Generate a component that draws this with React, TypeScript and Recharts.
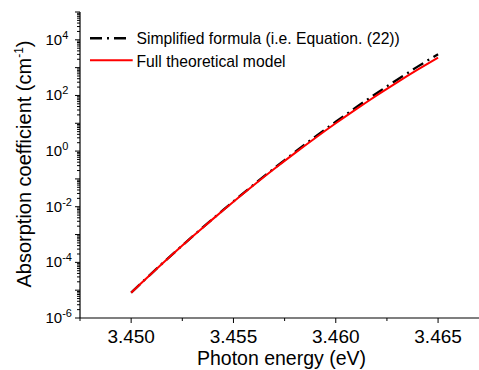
import React from 'react';
import { LineChart, Line, XAxis, YAxis, Label } from 'recharts';

const energies = [
  3.45, 3.4505, 3.451, 3.4515, 3.452, 3.4525, 3.453, 3.4535, 3.454, 3.4545,
  3.455, 3.4555, 3.456, 3.4565, 3.457, 3.4575, 3.458, 3.4585, 3.459, 3.4595,
  3.46, 3.4605, 3.461, 3.4615, 3.462, 3.4625, 3.463, 3.4635, 3.464, 3.4645, 3.465,
];
const fullModel = [
  8.13e-6, 1.81e-5, 3.99e-5, 8.69e-5, 1.88e-4, 4.01e-4, 8.47e-4, 1.77e-3, 3.66e-3, 7.52e-3,
  1.52e-2, 3.05e-2, 6.05e-2, 0.119, 0.231, 0.445, 0.847, 1.59, 2.97, 5.48,
  10.0, 18.1, 32.3, 57.1, 100, 173, 296, 502, 843, 1403, 2307,
];
const simplified = [
  8.22e-6, 1.83e-5, 4.04e-5, 8.81e-5, 1.91e-4, 4.07e-4, 8.61e-4, 1.8e-3, 3.73e-3, 7.67e-3,
  1.56e-2, 3.16e-2, 6.34e-2, 0.125, 0.245, 0.476, 0.918, 1.75, 3.3, 6.15,
  11.4, 20.7, 37.9, 67.9, 120, 213, 369, 632, 1086, 1828, 3041,
];

const xMajorTicks = [3.45, 3.455, 3.46, 3.465];
const xMinorTicks = [3.4475, 3.4525, 3.4575, 3.4625];
const xDomain = [3.4475, 3.467];
const yMajorExponents = [-6, -5, -4, -3, -2, -1, 0, 1, 2, 3, 4, 5];
const yMinorMultipliers = [2, 3, 4, 5, 6, 7, 8, 9];
const yDomain = [1e-6, 1e5];

const seriesNames = ['Simplified formula (i.e. Equation. (22))', 'Full theoretical model'];
const xTitle = 'Photon energy (eV)';
const yTitle = 'Absorption coefficient (cm';

const FONT = '"Liberation Sans", Arial, sans-serif';

const data = energies.map((e, i) => ({ e, simplified: simplified[i], full: fullModel[i] }));
const xTicks = [...xMajorTicks, ...xMinorTicks].sort((a, b) => a - b);
const yMajorTicks = yMajorExponents.map((p) => Math.pow(10, p));
const yTicks: number[] = [];
yMajorExponents.forEach((p) => {
  yTicks.push(Math.pow(10, p));
  if (p < 5) yMinorMultipliers.forEach((m) => yTicks.push(m * Math.pow(10, p)));
});
yTicks.sort((a, b) => a - b);

const isMajorX = (v: number) => xMajorTicks.some((t) => Math.abs(t - v) < 1e-9);

const BottomTick = (props: any) => {
  const { x, y, payload } = props;
  const v = payload.value as number;
  const major = isMajorX(v);
  return (
    <g>
      <line x1={x} y1={y} x2={x} y2={y + (major ? 5 : 3)} stroke="#000" strokeWidth={1} />
      {major && (
        <text x={x} y={y + 25} textAnchor="middle" fontSize={19} fontFamily={FONT} fill="#000">
          {v.toFixed(3)}
        </text>
      )}
    </g>
  );
};

const TopTick = (props: any) => {
  const { x, y, payload } = props;
  const v = payload.value as number;
  const major = isMajorX(v);
  return <line x1={x} y1={y} x2={x} y2={y + (major ? 4 : 2.5)} stroke="#777" strokeWidth={1} />;
};

const LeftTick = (props: any) => {
  const { x, y, payload } = props;
  const v = payload.value as number;
  const lg = Math.log10(v);
  const exp = Math.round(lg);
  const major = Math.abs(lg - exp) < 1e-6;
  const labelled = major && exp % 2 === 0;
  return (
    <g>
      <line x1={x - (major ? 5 : 3)} y1={y} x2={x} y2={y} stroke="#000" strokeWidth={1} />
      {labelled && (
        <text x={45.5} y={y + 5} textAnchor="start" fontSize={15} fontFamily={FONT} fill="#000">
          10
          <tspan dy={-6} fontSize={11}>{String(exp)}</tspan>
        </text>
      )}
    </g>
  );
};

export default function App() {
  return (
    <div style={{ position: 'absolute', left: 0, top: 0, width: 479, height: 370, background: '#fff' }}>
      <LineChart
        width={479}
        height={370}
        data={data}
        margin={{ top: 12, right: 0, bottom: 0, left: 0 }}
      >
        <XAxis
          dataKey="e"
          type="number"
          domain={xDomain}
          allowDataOverflow
          ticks={xTicks}
          interval={0}
          tickSize={0}
          tickMargin={0}
          tickLine={false}
          tick={<BottomTick />}
          height={52}
          axisLine={{ stroke: '#000', strokeWidth: 1.2 }}
        >
          <Label
            content={() => (
              <text x={281.5} y={365} textAnchor="middle" fontSize={19.5} fontFamily={FONT} fill="#000">
                {xTitle}
              </text>
            )}
          />
        </XAxis>
        <XAxis
          xAxisId="top"
          orientation="top"
          dataKey="e"
          type="number"
          domain={xDomain}
          allowDataOverflow
          ticks={xTicks}
          interval={0}
          tickSize={0}
          tickMargin={0}
          tickLine={false}
          tick={<TopTick />}
          height={0}
          axisLine={{ stroke: '#777', strokeWidth: 1.3 }}
        />
        <YAxis
          type="number"
          scale="log"
          domain={yDomain}
          allowDataOverflow
          ticks={yTicks}
          interval={0}
          tickSize={0}
          tickMargin={0}
          tickLine={false}
          tick={<LeftTick />}
          width={80}
          axisLine={{ stroke: '#000', strokeWidth: 1.2 }}
        >
          <Label
            content={() => (
              <text
                transform="rotate(-90)"
                x={-164}
                y={31}
                textAnchor="middle"
                fontSize={20}
                fontFamily={FONT}
                fill="#000"
              >
                {yTitle}
                <tspan dy={-8} fontSize={12}>-1</tspan>
                <tspan dy={8}>)</tspan>
              </text>
            )}
          />
        </YAxis>
        <Line
          type="linear"
          dataKey="simplified"
          name={seriesNames[0]}
          stroke="#000"
          strokeWidth={2.3}
          strokeDasharray="12 5 2 5"
          dot={false}
          activeDot={false}
          isAnimationActive={false}
        />
        <Line
          type="linear"
          dataKey="full"
          name={seriesNames[1]}
          stroke="#ff0000"
          strokeWidth={2}
          dot={false}
          activeDot={false}
          isAnimationActive={false}
        />
      </LineChart>
      <div style={{ position: 'absolute', left: 85, top: 25 }}>
        <svg width={340} height={50}>
          <line x1={5} y1={13.3} x2={43.3} y2={13.3} stroke="#000" strokeWidth={2.5} strokeDasharray="12 5 2 5" />
          <text x={51.5} y={19.3} fontSize={15.7} fontFamily={FONT} fill="#000">{seriesNames[0]}</text>
          <line x1={5} y1={35.3} x2={47.7} y2={35.3} stroke="#ff0000" strokeWidth={2} />
          <text x={51.5} y={41.7} fontSize={15.7} fontFamily={FONT} fill="#000">{seriesNames[1]}</text>
        </svg>
      </div>
    </div>
  );
}
